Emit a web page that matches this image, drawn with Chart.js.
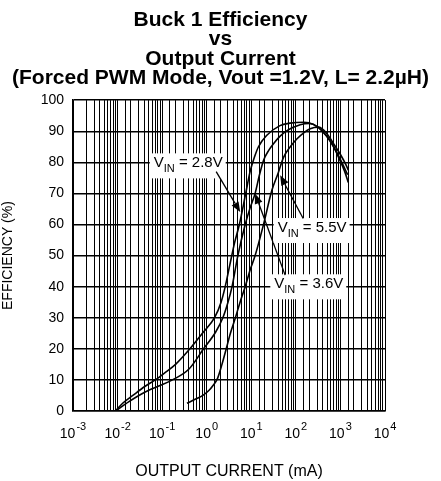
<!DOCTYPE html>
<html>
<head>
    <title>Buck 1 Efficiency vs Output Current</title>
    <script src="https://cdn.jsdelivr.net/npm/chart.js"></script>
    <style>
        html, body {
            margin: 0;
            padding: 0;
            background: #fff;
        }
        #wrap {
            width: 441px;
            height: 481px;
        }
    </style>
</head>
<body>
    <div id="wrap"><canvas id="effChart"></canvas></div>

    <script>
        const FONT = "'Liberation Sans', Arial, Helvetica, sans-serif";

        const titleLines = ['Buck 1 Efficiency', 'vs', 'Output Current', '(Forced PWM Mode, Vout =1.2V, L= 2.2µH)'];
        const xTitle = 'OUTPUT CURRENT (mA)';
        const yTitle = 'EFFICIENCY (%)';
        const decades = [-3, -2, -1, 0, 1, 2, 3, 4];

        // VIN = 2.8V (output current in mA, efficiency in %)
        const current28 = [0.009, 0.013, 0.022, 0.04, 0.07, 0.12, 0.2, 0.42, 0.8, 1.5, 2.1, 2.6, 3.3, 4.2, 5.4, 7.5, 9.4, 12, 14.5, 22, 44, 74, 150, 250, 400, 650, 950, 1250, 1500];
        const eff28 = [0, 2.5, 5, 7.8, 10, 12.5, 15, 20, 25, 30, 35, 40, 47, 54, 60, 70, 77, 82, 85, 88.6, 91.8, 92.6, 92.9, 92.2, 90, 86, 81, 77, 73.5];

        // VIN = 3.6V
        const current36 = [0.009, 0.018, 0.03, 0.05, 0.09, 0.17, 0.4, 0.85, 1.6, 2.3, 3.0, 3.7, 5.0, 7.3, 9.5, 12.2, 15, 18.8, 25, 31.5, 45, 63, 125, 200, 300, 480, 700, 950, 1250, 1450];
        const eff36 = [0, 3, 5, 6.7, 8.2, 10, 13.5, 20, 25.5, 30, 35, 40, 50, 60, 65.5, 70, 75.5, 80.6, 84, 86, 88.5, 90.2, 92.1, 92.5, 91.5, 88.5, 85, 81.5, 78, 76];

        // VIN = 5.5V
        const current55 = [0.36, 0.6, 0.85, 1.1, 1.4, 1.75, 2.2, 2.8, 3.4, 4.4, 5.6, 7.3, 9.5, 12.2, 18.8, 29, 40, 53, 75, 105, 150, 210, 320, 480, 700, 1000, 1350, 1500];
        const eff55 = [2.5, 4, 5.2, 6.5, 8.3, 10.5, 15, 20.5, 25, 30, 35, 40, 45.5, 50, 60, 71, 76.5, 81.6, 85, 87.5, 89.5, 90.8, 91.3, 89.5, 86, 82.5, 79, 77.5];

        // callouts: label text, label centre, arrow tail and tip (data coordinates)
        const calloutVin = ['2.8V', '3.6V', '5.5V'];
        const calloutAt = [[0.385, 80.3], [195, 41.4], [232, 59.5]];
        const arrowFrom = [[1.63, 77.0], [57.5, 43.7], [146, 61.9]];
        const arrowTo = [[5.64, 64.0], [12.2, 69.9], [44.5, 75.8]];

        function toPoints(xs, ys) {
            return xs.map((v, i) => ({ x: v, y: ys[i] }));
        }

        const decorations = {
            id: 'decorations',
            afterDraw(chart) {
                const ctx = chart.ctx;
                const x = chart.scales.x;
                const y = chart.scales.y;
                ctx.save();
                ctx.fillStyle = '#000';
                ctx.textBaseline = 'alphabetic';
                ctx.textAlign = 'left';

                // x tick labels as 10 with a raised exponent
                decades.forEach(p => {
                    const px = x.getPixelForValue(Math.pow(10, p));
                    const exp = p < 0 ? '-' + (-p) : String(p);
                    ctx.font = '14px ' + FONT;
                    const wBase = ctx.measureText('10').width;
                    ctx.font = '11px ' + FONT;
                    const wExp = ctx.measureText(exp).width;
                    const left = px - (wBase + 1 + wExp) / 2;
                    ctx.font = '14px ' + FONT;
                    ctx.fillText('10', left, y.bottom + 27);
                    ctx.font = '11px ' + FONT;
                    ctx.fillText(exp, left + wBase + 1, y.bottom + 19);
                });

                // callouts
                calloutVin.forEach((v, i) => {
                    const cx = x.getPixelForValue(calloutAt[i][0]);
                    const cy = y.getPixelForValue(calloutAt[i][1]);
                    const rest = ' = ' + v;
                    ctx.font = '15px ' + FONT;
                    const wV = ctx.measureText('V').width;
                    const wRest = ctx.measureText(rest).width;
                    ctx.font = '11px ' + FONT;
                    const wSub = ctx.measureText('IN').width;
                    const w = wV + wSub + wRest;
                    const left = cx - w / 2;

                    ctx.fillStyle = '#fff';
                    ctx.fillRect(left - 4, cy - 8, w + 7, 25);

                    ctx.fillStyle = '#000';
                    ctx.font = '15px ' + FONT;
                    ctx.fillText('V', left, cy + 6);
                    ctx.font = '11px ' + FONT;
                    ctx.fillText('IN', left + wV, cy + 11);
                    ctx.font = '15px ' + FONT;
                    ctx.fillText(rest, left + wV + wSub, cy + 6);

                    // arrow
                    const fx = x.getPixelForValue(arrowFrom[i][0]);
                    const fy = y.getPixelForValue(arrowFrom[i][1]);
                    const tx = x.getPixelForValue(arrowTo[i][0]);
                    const ty = y.getPixelForValue(arrowTo[i][1]);
                    const ang = Math.atan2(ty - fy, tx - fx);
                    const headLen = 10, headHalf = 4;
                    const bx = tx - headLen * Math.cos(ang);
                    const by = ty - headLen * Math.sin(ang);
                    ctx.strokeStyle = '#000';
                    ctx.lineWidth = 1.3;
                    ctx.beginPath();
                    ctx.moveTo(fx, fy);
                    ctx.lineTo(bx, by);
                    ctx.stroke();
                    ctx.beginPath();
                    ctx.moveTo(tx, ty);
                    ctx.lineTo(bx + headHalf * Math.sin(ang), by - headHalf * Math.cos(ang));
                    ctx.lineTo(bx - headHalf * Math.sin(ang), by + headHalf * Math.cos(ang));
                    ctx.closePath();
                    ctx.fill();
                });
                ctx.restore();
            }
        };

        Chart.defaults.font.family = FONT;
        Chart.defaults.color = '#000';

        const lineStyle = {
            borderColor: '#000',
            backgroundColor: '#000',
            borderWidth: 1.6,
            pointRadius: 0,
            fill: false,
            cubicInterpolationMode: 'monotone'
        };

        new Chart(document.getElementById('effChart'), {
            type: 'line',
            data: {
                datasets: [
                    Object.assign({ label: 'VIN = 2.8V', data: toPoints(current28, eff28) }, lineStyle),
                    Object.assign({ label: 'VIN = 3.6V', data: toPoints(current36, eff36) }, lineStyle),
                    Object.assign({ label: 'VIN = 5.5V', data: toPoints(current55, eff55) }, lineStyle)
                ]
            },
            options: {
                responsive: true,
                maintainAspectRatio: false,
                animation: false,
                layout: { padding: 0 },
                plugins: {
                    legend: { display: false },
                    tooltip: { enabled: false },
                    title: {
                        display: true,
                        text: titleLines,
                        color: '#000',
                        font: { size: 21, weight: 'bold', lineHeight: 0.93 },
                        padding: { top: 10, bottom: 12 }
                    }
                },
                scales: {
                    x: {
                        type: 'logarithmic',
                        min: 0.001,
                        max: 10000,
                        ticks: { display: false },
                        grid: { color: '#000', lineWidth: 1, drawTicks: false },
                        border: { display: true, color: '#000', width: 1.5 },
                        title: {
                            display: true,
                            text: xTitle,
                            color: '#000',
                            font: { size: 16 },
                            padding: { top: 0, bottom: 0 }
                        },
                        afterFit: s => { s.height = 70; }
                    },
                    y: {
                        min: 0,
                        max: 100,
                        ticks: { stepSize: 10, padding: 9, color: '#000', font: { size: 14 } },
                        grid: { color: '#000', lineWidth: 1.4, drawTicks: false },
                        border: { display: true, color: '#000', width: 1.5 },
                        title: {
                            display: true,
                            text: yTitle,
                            color: '#000',
                            font: { size: 14 },
                            padding: { top: 0, bottom: 0 }
                        },
                        afterFit: s => { s.width = 73; }
                    },
                    // empty right-hand margin so the title stays centred on the page
                    yRight: {
                        position: 'right',
                        display: true,
                        min: 0,
                        max: 100,
                        ticks: { display: false },
                        grid: { display: false },
                        border: { display: false },
                        afterFit: s => { s.width = 56; }
                    }
                }
            },
            plugins: [decorations]
        });
    </script>
</body>
</html>
